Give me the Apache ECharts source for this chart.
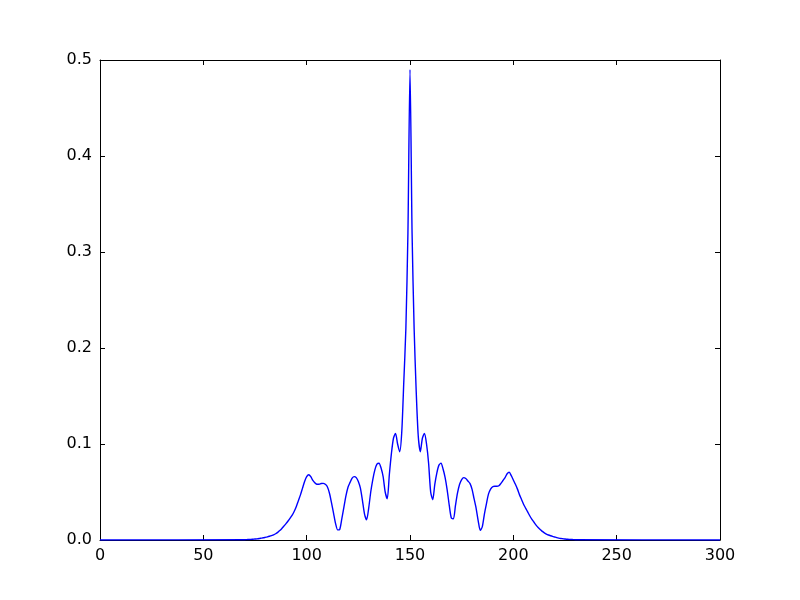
<!DOCTYPE html>
<html>
<head>
<meta charset="utf-8">
<script src="https://cdn.jsdelivr.net/npm/echarts@6/dist/echarts.min.js"></script>
<style>
  html, body { margin: 0; padding: 0; background: #fff; }
  #chart { width: 800px; height: 600px; }
</style>
</head>
<body>
<div id="chart"></div>
<script>
  // x ticks / y ticks
  var xTicks = [0, 50, 100, 150, 200, 250, 300];
  var yTicks = [0.0, 0.1, 0.2, 0.3, 0.4, 0.5];

  // curve: one value per unit of x, starting at x = 70
  var curveStart = 70;
  var curveValues = [
    0.0003, 0.0004, 0.0005, 0.0006, 0.0008, 0.0010, 0.0012, 0.0015, 0.0019, 0.0023, // 70-79
    0.0028, 0.0033, 0.0039, 0.0046, 0.0054, 0.0065, 0.0080, 0.0098, 0.012, 0.0145,  // 80-89
    0.017, 0.0198, 0.0228, 0.026, 0.030, 0.035, 0.041, 0.047, 0.054, 0.061,         // 90-99
    0.066, 0.068, 0.066, 0.062, 0.0595, 0.058, 0.058, 0.0588, 0.059, 0.058,         // 100-109
    0.0555, 0.049, 0.039, 0.028, 0.017, 0.0105, 0.011, 0.022, 0.034, 0.046,         // 110-119
    0.055, 0.060, 0.0645, 0.066, 0.065, 0.061, 0.054, 0.041, 0.027, 0.021,          // 120-129
    0.033, 0.050, 0.063, 0.073, 0.079, 0.080, 0.075, 0.066, 0.050, 0.043,           // 130-139
    0.068, 0.090, 0.106, 0.111, 0.100, 0.092, 0.112, 0.165, 0.22, 0.32,            // 140-149
    0.49, 0.32, 0.22, 0.155, 0.108, 0.092, 0.106, 0.111, 0.100, 0.080,             // 150-159
    0.050, 0.042, 0.058, 0.070, 0.078, 0.080, 0.074, 0.065, 0.052, 0.036,           // 160-169
    0.023, 0.022, 0.036, 0.049, 0.058, 0.063, 0.065, 0.064, 0.0615, 0.059,          // 170-179
    0.053, 0.043, 0.033, 0.020, 0.010, 0.014, 0.027, 0.038, 0.048, 0.053,           // 180-189
    0.0555, 0.056, 0.056, 0.0565, 0.059, 0.062, 0.065, 0.069, 0.0705, 0.067,        // 190-199
    0.0625, 0.058, 0.053, 0.047, 0.042, 0.037, 0.033, 0.029, 0.025, 0.0215,         // 200-209
    0.0185, 0.0155, 0.013, 0.011, 0.009, 0.0075, 0.0062, 0.0052, 0.0044, 0.0037,    // 210-219
    0.0031, 0.0025, 0.0020, 0.0016, 0.0013, 0.0010, 0.0008, 0.0006, 0.0005, 0.0004, // 220-229
    0.0003                                                                          // 230
  ];

  var points = [[xTicks[0], 0]];
  curveValues.forEach(function (v, i) {
    points.push([curveStart + i, v]);
  });
  points.push([xTicks[xTicks.length - 1], 0]);

  var labelFont = { color: '#000', fontSize: 16, fontFamily: 'DejaVu Sans' };
  var boxLine = { show: true, onZero: false, lineStyle: { color: '#000', width: 1 } };
  var innerTick = { show: true, inside: true, length: 5, lineStyle: { color: '#000', width: 1 } };

  var chart = echarts.init(document.getElementById('chart'));
  chart.setOption({
    animation: false,
    backgroundColor: '#fff',
    grid: { left: 100, right: 80, top: 60, bottom: 60 },
    xAxis: [
      {
        type: 'value', position: 'bottom',
        min: xTicks[0], max: xTicks[xTicks.length - 1], interval: 50,
        axisLine: boxLine, axisTick: innerTick, splitLine: { show: false },
        axisLabel: Object.assign({ margin: 8 }, labelFont)
      },
      {
        type: 'value', position: 'top',
        min: xTicks[0], max: xTicks[xTicks.length - 1], interval: 50,
        axisLine: boxLine, axisTick: innerTick, splitLine: { show: false },
        axisLabel: { show: false }
      }
    ],
    yAxis: [
      {
        type: 'value', position: 'left',
        min: yTicks[0], max: yTicks[yTicks.length - 1], interval: 0.1,
        axisLine: boxLine, axisTick: innerTick, splitLine: { show: false },
        axisLabel: Object.assign({ margin: 8, formatter: function (v) { return v.toFixed(1); } }, labelFont)
      },
      {
        type: 'value', position: 'right',
        min: yTicks[0], max: yTicks[yTicks.length - 1], interval: 0.1,
        axisLine: boxLine, axisTick: innerTick, splitLine: { show: false },
        axisLabel: { show: false }
      }
    ],
    series: [{
      type: 'line',
      data: points,
      showSymbol: false,
      symbol: 'none',
      smooth: 0.25,
      lineStyle: { color: '#0000ff', width: 1.4 },
      z: 1
    }]
  });
</script>
</body>
</html>
